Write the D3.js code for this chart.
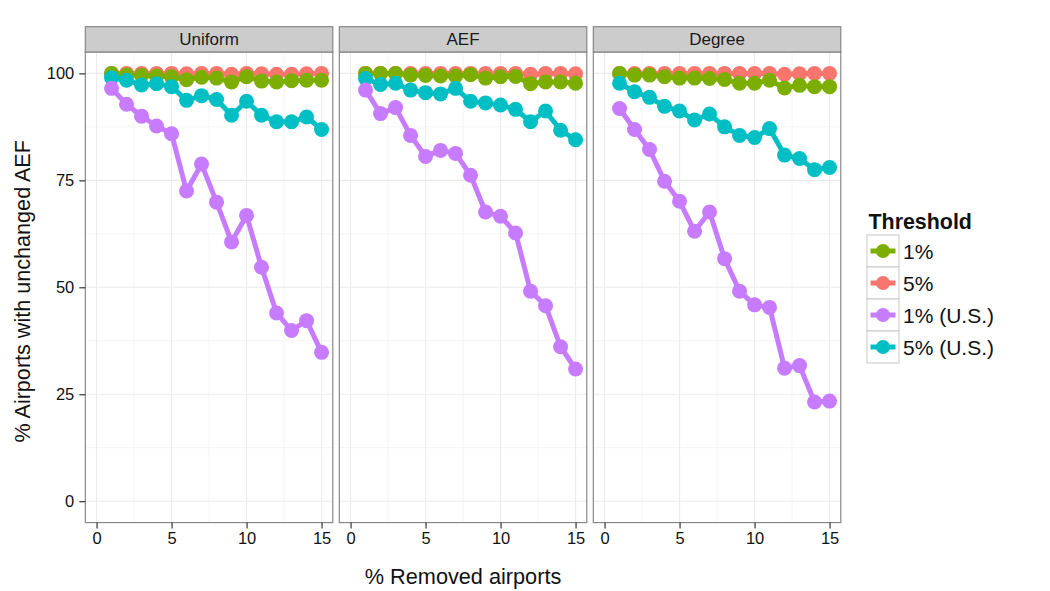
<!DOCTYPE html>
<html><head><meta charset="utf-8">
<script src="https://cdn.jsdelivr.net/npm/d3@7"></script>
<style>body{margin:0;background:#fff;} text{font-family:"Liberation Sans",Arial,sans-serif;}</style>
</head><body>
<svg id="chart" width="1050" height="591"></svg>
<script>
const panels = ["Uniform", "AEF", "Degree"];
const thresholds = ["1%", "5%", "1% (U.S.)", "5% (U.S.)"];
const removed = [1,2,3,4,5,6,7,8,9,10,11,12,13,14,15];
const xTicks = [0,5,10,15];
const yTicks = [0,25,50,75,100];

// Uniform
const uniform1 = [100, 99.6, 99.5, 99.4, 99.2, 98.5, 99.1, 98.9, 98.0, 99.2, 98.2, 98.0, 98.3, 98.4, 98.4];
const uniform5 = [100, 100, 100, 100, 100, 99.9, 100, 100, 99.8, 100, 99.9, 99.8, 99.8, 99.9, 100];
const uniform1US = [96.5, 92.8, 90.0, 87.7, 85.9, 72.5, 78.8, 69.9, 60.6, 66.8, 54.7, 44.0, 39.9, 42.2, 34.8];
const uniform5US = [99.0, 98.4, 97.3, 97.6, 96.9, 93.7, 94.8, 93.9, 90.2, 93.5, 90.2, 88.7, 88.7, 89.8, 86.9];
// AEF
const aef1 = [100, 100, 100, 99.6, 99.5, 99.4, 99.4, 99.7, 98.9, 99.2, 99.3, 97.6, 98.0, 98.0, 97.7];
const aef5 = [100, 100, 100, 100, 100, 100, 100, 100, 100, 100, 100, 99.8, 100, 100, 99.9];
const aef1US = [96.1, 90.6, 92.0, 85.5, 80.6, 82.0, 81.3, 76.2, 67.6, 66.6, 62.7, 49.1, 45.7, 36.1, 30.9];
const aef5US = [98.8, 97.4, 97.7, 96.1, 95.5, 95.2, 96.5, 93.5, 93.1, 92.6, 91.6, 88.7, 91.2, 86.7, 84.5];
// Degree
const degree1 = [100, 99.6, 99.6, 99.2, 98.9, 98.9, 98.8, 98.6, 97.7, 97.7, 98.4, 96.6, 97.2, 96.9, 96.9];
const degree5 = [100, 100, 100, 100, 100, 100, 100, 100, 100, 100, 100, 99.8, 99.9, 100, 100];
const degree1US = [91.8, 86.9, 82.2, 74.8, 70.1, 63.1, 67.6, 56.7, 49.1, 45.9, 45.3, 31.1, 31.7, 23.2, 23.4];
const degree5US = [97.7, 95.7, 94.4, 92.3, 91.2, 89.1, 90.5, 87.5, 85.5, 85.0, 87.1, 80.9, 80.1, 77.5, 78.0];

const palette = {"1%":"#7CAE00", "5%":"#F8766D", "1% (U.S.)":"#C77CFF", "5% (U.S.)":"#00BFC4"};
const panelData = {
  "Uniform": {"1%":uniform1, "5%":uniform5, "1% (U.S.)":uniform1US, "5% (U.S.)":uniform5US},
  "AEF": {"1%":aef1, "5%":aef5, "1% (U.S.)":aef1US, "5% (U.S.)":aef5US},
  "Degree": {"1%":degree1, "5%":degree5, "1% (U.S.)":degree1US, "5% (U.S.)":degree5US}
};
const drawOrder = ["5%", "1%", "5% (U.S.)", "1% (U.S.)"];

const svg = d3.select("#chart");
const panelLeft = [85.3, 339.3, 593.3];
const panelW = 247.5;
const plotTop = 52, plotBottom = 522.6, stripTop = 26.7;

const x = d3.scaleLinear().domain([-0.75, 15.75]).range([0, panelW]);
const y = d3.scaleLinear().domain([-5, 105]).range([plotBottom, plotTop]);

panels.forEach((p, i) => {
  const g = svg.append("g").attr("transform", `translate(${panelLeft[i]},0)`);
  g.append("rect").attr("x",0).attr("y",plotTop).attr("width",panelW).attr("height",plotBottom-plotTop).attr("fill","#fff");
  [2.5,7.5,12.5].forEach(v => g.append("line").attr("x1",x(v)).attr("x2",x(v)).attr("y1",plotTop).attr("y2",plotBottom).attr("stroke","#F4F4F4").attr("stroke-width",1));
  [12.5,37.5,62.5,87.5].forEach(v => g.append("line").attr("x1",0).attr("x2",panelW).attr("y1",y(v)).attr("y2",y(v)).attr("stroke","#F4F4F4").attr("stroke-width",1));
  xTicks.forEach(v => g.append("line").attr("x1",x(v)).attr("x2",x(v)).attr("y1",plotTop).attr("y2",plotBottom).attr("stroke","#EBEBEB").attr("stroke-width",1.1));
  yTicks.forEach(v => g.append("line").attr("x1",0).attr("x2",panelW).attr("y1",y(v)).attr("y2",y(v)).attr("stroke","#EBEBEB").attr("stroke-width",1.1));

  const line = d3.line().x((d,j) => x(removed[j])).y(d => y(d));
  drawOrder.forEach(t => {
    const vals = panelData[p][t];
    g.append("path").datum(vals).attr("d", line).attr("fill","none")
      .attr("stroke", palette[t]).attr("stroke-width", 5).attr("stroke-linejoin","round");
    g.selectAll(null).data(vals).enter().append("circle")
      .attr("cx",(d,j)=>x(removed[j])).attr("cy",d=>y(d)).attr("r",7.5).attr("fill",palette[t]);
  });

  g.append("rect").attr("x",0).attr("y",plotTop).attr("width",panelW).attr("height",plotBottom-plotTop)
    .attr("fill","none").attr("stroke","#7F7F7F").attr("stroke-width",1.1);
  g.append("rect").attr("x",0).attr("y",stripTop).attr("width",panelW).attr("height",plotTop-stripTop)
    .attr("fill","#CCCCCC").attr("stroke","#7F7F7F").attr("stroke-width",1.1);
  g.append("text").attr("x",panelW/2).attr("y",(stripTop+plotTop)/2+6).attr("text-anchor","middle")
    .attr("font-size",17).attr("fill","#1a1a1a").text(p);

  const xa = g.append("g").attr("transform",`translate(0,${plotBottom})`)
    .call(d3.axisBottom(x).tickValues(xTicks).tickSize(6).tickPadding(4).tickSizeOuter(0));
  xa.select(".domain").remove();
  xa.selectAll("line").attr("stroke","#222").attr("stroke-width",1.1);
  xa.selectAll("text").attr("font-size",16.5).attr("fill","#111").attr("font-family","Liberation Sans, Arial, sans-serif");

  if (i === 0) {
    const ya = g.append("g").call(d3.axisLeft(y).tickValues(yTicks).tickSize(6).tickPadding(5).tickSizeOuter(0));
    ya.select(".domain").remove();
    ya.selectAll("line").attr("stroke","#222").attr("stroke-width",1.1);
    ya.selectAll("text").attr("font-size",16.5).attr("fill","#111").attr("font-family","Liberation Sans, Arial, sans-serif");
  }
});

svg.append("text").attr("x",(panelLeft[0]+panelLeft[2]+panelW)/2).attr("y",584).attr("text-anchor","middle")
  .attr("font-size",21.7).attr("fill","#111").text("% Removed airports");
svg.append("text").attr("transform",`translate(30,${(plotTop+plotBottom)/2 + 4}) rotate(-90)`).attr("text-anchor","middle")
  .attr("font-size",21.6).attr("fill","#111").text("% Airports with unchanged AEF");

const lg = svg.append("g").attr("transform","translate(867,0)");
lg.append("text").attr("x",1.5).attr("y",228.5).attr("font-size",21.4).attr("font-weight","bold").attr("fill","#111").text("Threshold");
thresholds.forEach((t,k) => {
  const ky = 235 + k*32;
  lg.append("rect").attr("x",0).attr("y",ky).attr("width",32).attr("height",32)
    .attr("fill","#fff").attr("stroke","#CCCCCC").attr("stroke-width",1.1);
  lg.append("line").attr("x1",3.5).attr("x2",28.5).attr("y1",ky+16).attr("y2",ky+16)
    .attr("stroke",palette[t]).attr("stroke-width",5);
  lg.append("circle").attr("cx",16).attr("cy",ky+16).attr("r",7).attr("fill",palette[t]);
  lg.append("text").attr("x",36).attr("y",ky+23.5).attr("font-size",21).attr("fill","#111").text(t);
});
</script>
</body></html>
